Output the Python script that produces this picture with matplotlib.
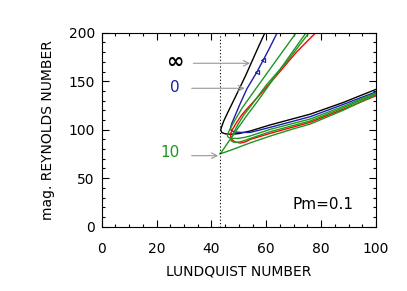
import matplotlib
matplotlib.use('Agg')
import matplotlib.pyplot as plt
from matplotlib.ticker import MultipleLocator

# curves: (lundquist, reynolds), upper branch -> nose -> lower branch
black_x = [59.5, 56.6, 52.5, 48.6, 46.0, 44.5, 43.6, 43.4, 43.8, 45.0, 47.0, 50.0, 54.2, 61.5, 76.0, 88.0, 100.0]
black_y = [200, 182, 156, 133, 118, 109, 102, 99.5, 97.0, 95.8, 95.3, 96.0, 98.7, 105.0, 116.0, 128.0, 141.6]

blue_x = [64.0, 60.8, 56.7, 53.0, 50.5, 48.7, 47.5, 46.9, 47.3, 48.5, 50.5, 54.2, 61.5, 76.0, 88.0, 100.0]
blue_y = [200, 182, 160, 142.5, 127, 115, 107, 101.5, 99.0, 97.7, 97.2, 97.2, 102.5, 113.4, 126.0, 139.0]
blue_mark_x = [58.9, 56.7]
blue_mark_y = [172, 160]

red_x = [78.0, 71.0, 63.5, 57.0, 52.5, 51.0, 49.2, 47.6, 46.9, 47.2, 48.5, 50.5, 52.5, 54.2, 61.5, 76.0, 88.0, 100.0]
red_y = [200, 180, 155, 134, 120, 115, 107.5, 100, 95.0, 90.5, 87.5, 86.2, 87.5, 90.0, 96.3, 107.6, 121.0, 135.0]

green1_x = [74.5, 65.0, 57.0, 53.0, 49.0, 45.5, 43.8, 43.0, 46.0, 50.0, 54.2, 61.5, 70.0, 76.0, 88.0, 100.0]
green1_y = [200, 162, 130, 115, 99, 84.5, 77.5, 75.0, 77.8, 82.0, 86.5, 93.5, 101.0, 105.8, 120.0, 136.0]

green2_x = [70.9, 63.0, 56.0, 51.2, 49.7, 47.8, 46.3, 45.8, 46.2, 47.5, 49.5, 52.0, 54.2, 61.5, 76.0, 88.0, 100.0]
green2_y = [200, 169, 141.5, 122.4, 115.2, 106, 98, 94, 92, 91, 91, 92, 93.6, 100.4, 111.0, 124.0, 138.0]

green3_x = [75.6, 68.0, 60.0, 54.5, 51.8, 49.8, 48.2, 47.2, 47.2, 48.0, 49.5, 51.5, 54.2, 61.5, 76.0, 88.0, 100.0]
green3_y = [200, 172, 146, 125, 115.2, 106, 97.5, 91, 88.5, 87.2, 87.0, 88.3, 91.0, 98.0, 109.0, 122.5, 137.0]

s_crit = 43.0
labels = ['\u221e', '0', '10']
label_xy = [(26.7, 169.8), (26.7, 144.0), (24.9, 76.0)]
arrow_from = [(33.4, 168.5), (32.8, 142.7), (32.8, 73.2)]
arrow_to = [(54.1, 168.5), (52.2, 142.7), (42.5, 73.2)]

BLUE = '#1c1ca8'
GREEN = '#1f961f'

fig = plt.figure(figsize=(4.07, 2.91), dpi=100)
ax = fig.add_axes([0.2499, 0.2210, 0.6739, 0.6666])

lw = 1.0
ax.plot(black_x, black_y, color='black', lw=lw)
ax.plot(blue_x, blue_y, color=BLUE, lw=lw)
ax.plot(blue_mark_x, blue_mark_y, ls='none', marker='<', ms=3, mfc='none',
        mec=BLUE, mew=0.8)
ax.plot(red_x, red_y, color='red', lw=lw)
ax.plot(green2_x, green2_y, color=GREEN, lw=lw)
ax.plot(green3_x, green3_y, color=GREEN, lw=lw)
ax.plot(green1_x, green1_y, color=GREEN, lw=lw)

ax.axvline(s_crit, color='black', lw=0.8, ls=(0, (1, 2)))

label_colors = ['black', BLUE, GREEN]
label_sizes = [15, 11, 11]
for txt, xy, c, fs in zip(labels, label_xy, label_colors, label_sizes):
    ax.text(xy[0], xy[1], txt, color=c, fontsize=fs, ha='center', va='center',
            fontweight='bold' if txt == '\u221e' else 'normal')
for a, b in zip(arrow_from, arrow_to):
    ax.annotate('', xy=b, xytext=a,
                arrowprops=dict(arrowstyle='->', color='#999999', lw=0.8,
                                shrinkA=0, shrinkB=0))

ax.text(69.7, 22.4, 'Pm=0.1', fontsize=11, ha='left', va='center')

ax.set_xlim(0, 100)
ax.set_ylim(0, 200)
ax.xaxis.set_major_locator(MultipleLocator(20))
ax.xaxis.set_minor_locator(MultipleLocator(5))
ax.yaxis.set_major_locator(MultipleLocator(50))
ax.yaxis.set_minor_locator(MultipleLocator(10))
ax.tick_params(which='both', direction='in', top=True, right=True, width=0.8)
ax.tick_params(which='major', length=5)
ax.tick_params(which='minor', length=2.5)
ax.tick_params(axis='x', which='major', pad=11, labelsize=10)
ax.tick_params(axis='y', which='major', pad=5, labelsize=10)
for sp in ax.spines.values():
    sp.set_linewidth(0.8)

ax.set_xlabel('LUNDQUIST NUMBER', fontsize=10, labelpad=6)
ax.set_ylabel('mag. REYNOLDS NUMBER', fontsize=10, labelpad=10)

fig.savefig('out.png', dpi=100)
